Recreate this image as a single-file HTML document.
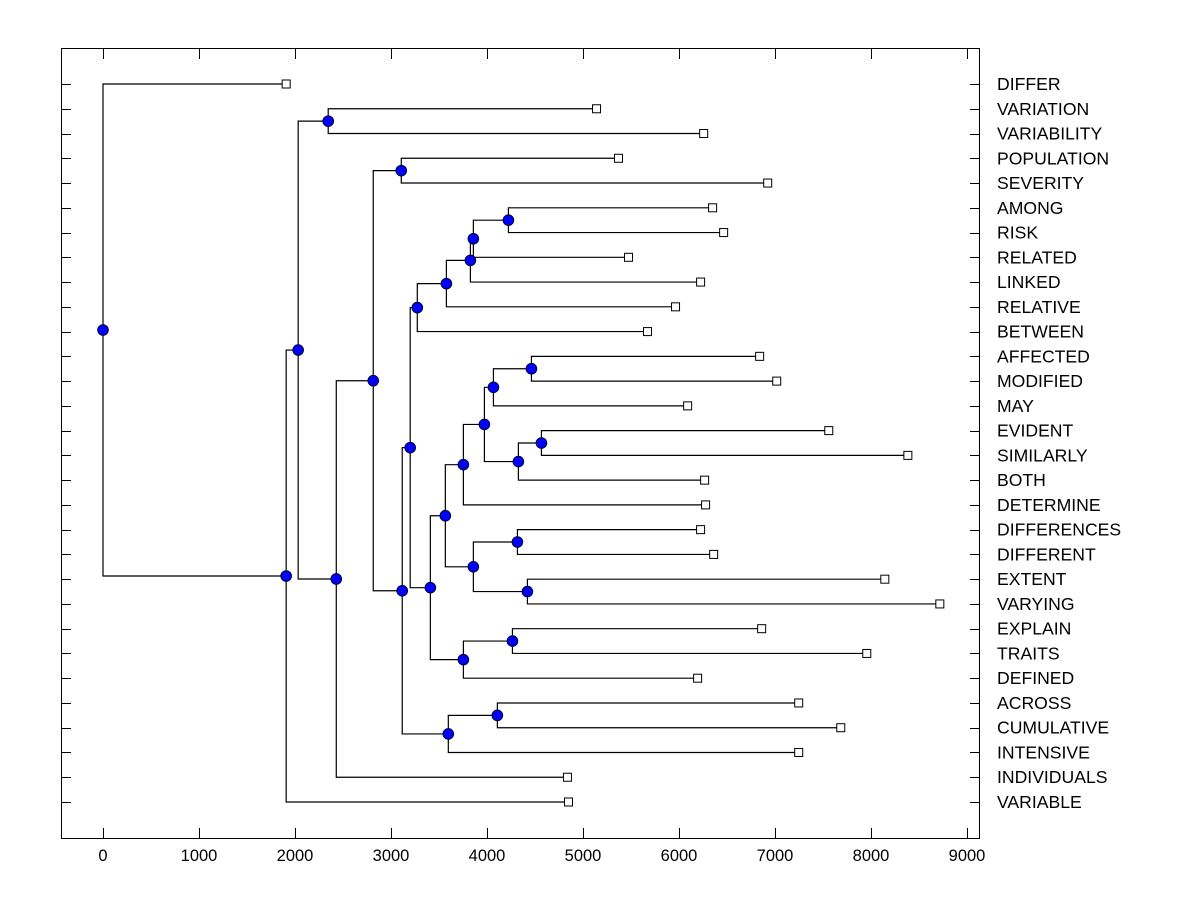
<!DOCTYPE html>
<html><head><meta charset="utf-8"><style>
html,body{margin:0;padding:0;background:#fff;}
svg{display:block;font-family:"Liberation Sans",Arial,sans-serif;}
</style></head><body>
<svg id="chart" width="1200" height="900" viewBox="0 0 1200 900" xmlns="http://www.w3.org/2000/svg">
<rect x="0" y="0" width="1200" height="900" fill="#fff"/>
<rect x="61.5" y="48.5" width="918" height="790" fill="none" stroke="#000" stroke-width="1"/>
<g id="links"></g><g id="marks"></g><g id="axes"></g>
</svg>
<script>
const leafNames = ["DIFFER","VARIATION","VARIABILITY","POPULATION","SEVERITY","AMONG","RISK","RELATED","LINKED","RELATIVE","BETWEEN","AFFECTED","MODIFIED","MAY","EVIDENT","SIMILARLY","BOTH","DETERMINE","DIFFERENCES","DIFFERENT","EXTENT","VARYING","EXPLAIN","TRAITS","DEFINED","ACROSS","CUMULATIVE","INTENSIVE","INDIVIDUALS","VARIABLE"];
const leafValues = [1908,5141,6257,5370,6924,6350,6465,5474,6225,5964,5672,6840,7018,6090,7560,8384,6267,6277,6225,6361,8144,8717,6861,7956,6194,7247,7685,7247,4838,4849];
const nodeIds = ["var","pop","among","risk2","linked","rel","betw","aff","mod","ev","sim","both","det","dd","ext","dif","mid","trait","expl","big","m410","acr","intens","m402","m373","m336","B","A","root"];
const nodeHeights = [2346,3107,4223,3858,3827,3577,3274,4463,4067,4567,4327,3973,3754,4317,4421,3858,3566,4265,3754,3410,3200,4108,3597,3117,2815,2430,2033,1908,0];
const nodeChildren = [
 ["L1","L2"],["L3","L4"],["L5","L6"],["among","L7"],["risk2","L8"],["linked","L9"],["rel","L10"],
 ["L11","L12"],["aff","L13"],["L14","L15"],["ev","L16"],["mod","sim"],["both","L17"],
 ["L18","L19"],["L20","L21"],["dd","ext"],["det","dif"],["L22","L23"],["trait","L24"],
 ["mid","expl"],["betw","big"],["L25","L26"],["acr","L27"],["m410","intens"],["pop","m402"],
 ["m373","L28"],["var","m336"],["B","L29"],["L0","A"]
];
const xTicks = [0,1000,2000,3000,4000,5000,6000,7000,8000,9000];

const X = v => 103 + v * 0.096;
const Y = i => 84 + i * (718 / 29);
const NS = "http://www.w3.org/2000/svg";
function mk(tag, attrs, parent){const e=document.createElementNS(NS,tag);for(const k in attrs)e.setAttribute(k,attrs[k]);parent.appendChild(e);return e;}
const links=document.getElementById('links'), marks=document.getElementById('marks'), axes=document.getElementById('axes');

const pos={};
leafNames.forEach((n,i)=>{pos["L"+i]={x:X(leafValues[i]),y:Y(i)};});
const byId={};nodeIds.forEach((id,i)=>byId[id]=i);
function place(id){
  if(pos[id])return pos[id];
  const i=byId[id];const a=nodeChildren[i][0], b=nodeChildren[i][1];
  const pa=place(a), pb=place(b);
  pos[id]={x:X(nodeHeights[i]),y:(pa.y+pb.y)/2};
  const p=pos[id];
  const path=mk('path',{d:`M${pa.x},${pa.y}H${p.x}V${pb.y}H${pb.x}`,fill:'none',stroke:'#000','stroke-width':1.2},links);
  
  
  return p;
}
place("root");
nodeIds.forEach(id=>{
  const p=pos[id];
  const c=mk('circle',{cx:p.x,cy:p.y,r:5.3,fill:'#0000ff',stroke:'#000033','stroke-width':1},marks);
  
  
});
leafNames.forEach((n,i)=>{
  const p=pos["L"+i];
  const r=mk('rect',{x:p.x-4,y:p.y-4,width:8,height:8,fill:'#fff',stroke:'#000','stroke-width':1},marks);
  
  
  const t=mk('text',{x:997,y:p.y+6,'font-size':17.6,fill:'#000'},axes);
  t.textContent=n;
  
  
  const yy=Math.round(p.y)+0.5;
  const tl=mk('path',{d:`M62,${yy}H71M970,${yy}H980`,stroke:'#000','stroke-width':1},axes);
  
  
});
xTicks.forEach(v=>{
  const x=Math.round(X(v))+0.5;
  const tk=mk('path',{d:`M${x},838V828M${x},49V59`,stroke:'#000','stroke-width':1},axes);
  
  
  const t=mk('text',{x:X(v),y:861,'font-size':16.5,'text-anchor':'middle',fill:'#000'},axes);
  t.textContent=String(v);
  
  
});
</script>
</body></html>
